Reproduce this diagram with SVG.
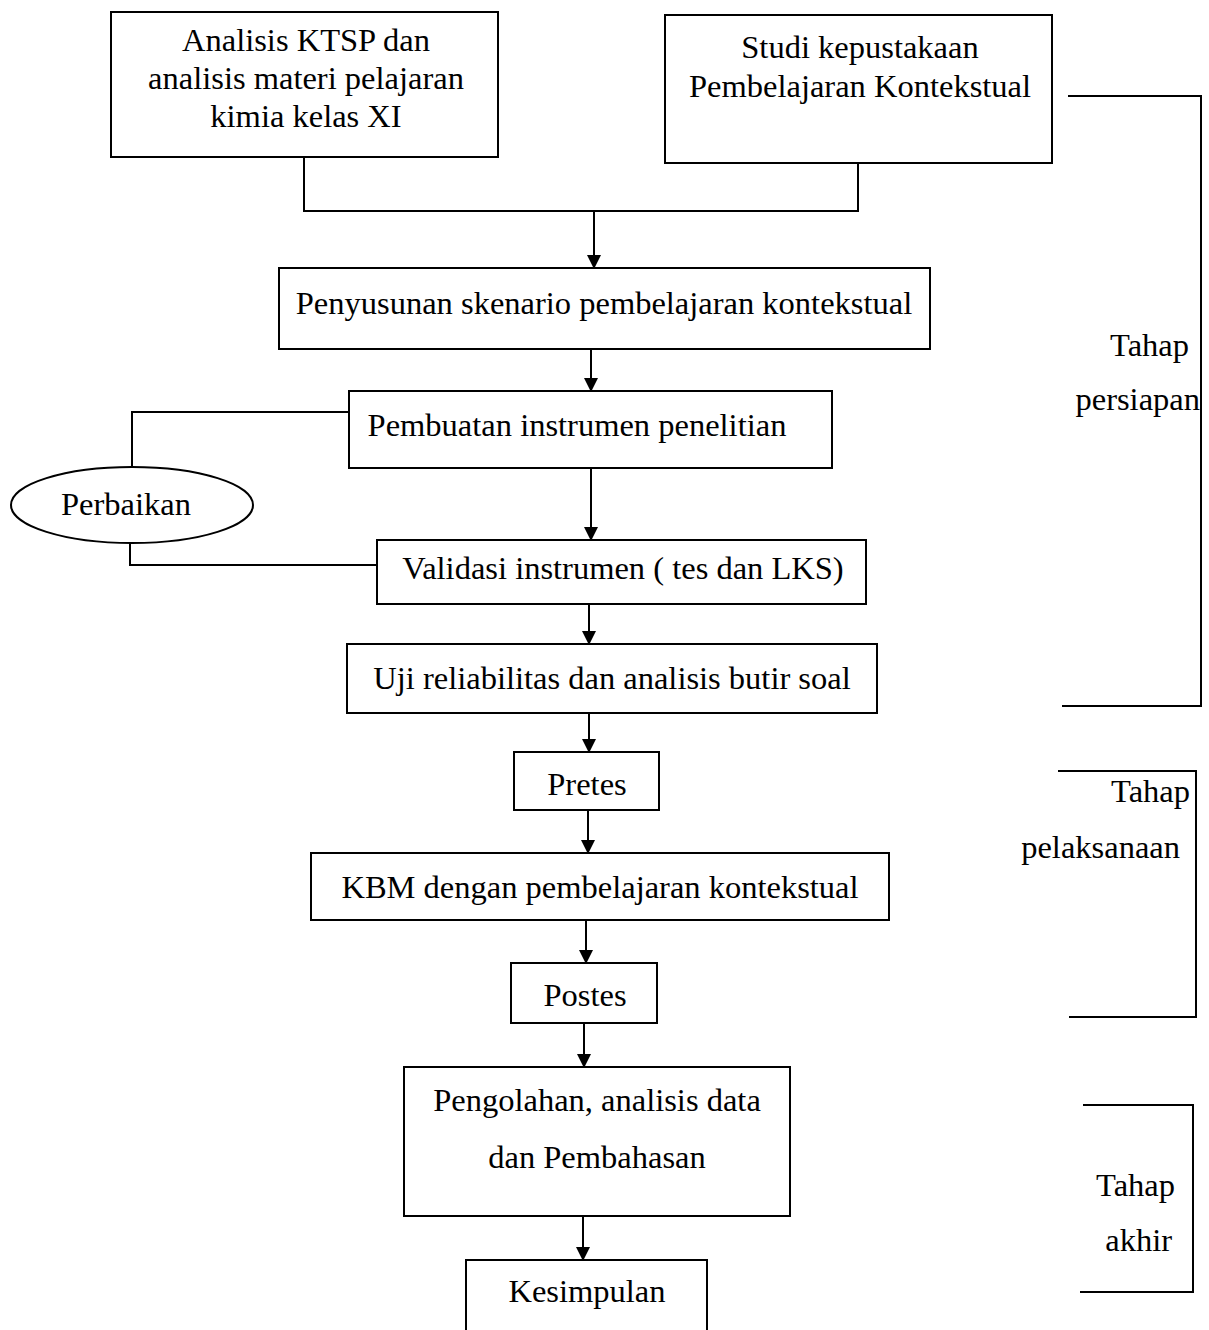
<svg xmlns="http://www.w3.org/2000/svg" width="1209" height="1330" viewBox="0 0 1209 1330">
<defs>
<marker id="ah" markerWidth="14" markerHeight="14" refX="13" refY="7" orient="auto" markerUnits="userSpaceOnUse">
<path d="M0,0 L14,7 L0,14 Z" fill="#000"/>
</marker>
<style>
.box{fill:#fff;stroke:#000;stroke-width:2}
.ln{fill:none;stroke:#000;stroke-width:2}
.t{font-family:"Liberation Serif","Times New Roman",serif;font-size:32.5px;fill:#000;text-anchor:middle}
.r{text-anchor:end}
</style>
</defs>
<rect width="1209" height="1330" fill="#fff"/>
<g id="connectors">
<polyline class="ln" points="304,157 304,211 858,211 858,163"/>
<line class="ln" x1="594" y1="211" x2="594" y2="268" marker-end="url(#ah)"/>
<line class="ln" x1="591" y1="349" x2="591" y2="391" marker-end="url(#ah)"/>
<polyline class="ln" points="349,412 132,412 132,467"/>
<polyline class="ln" points="130,543 130,565 377,565"/>
<line class="ln" x1="591" y1="468" x2="591" y2="540" marker-end="url(#ah)"/>
<line class="ln" x1="589" y1="604" x2="589" y2="644" marker-end="url(#ah)"/>
<line class="ln" x1="589" y1="713" x2="589" y2="752" marker-end="url(#ah)"/>
<line class="ln" x1="588" y1="810" x2="588" y2="853" marker-end="url(#ah)"/>
<line class="ln" x1="586" y1="920" x2="586" y2="963" marker-end="url(#ah)"/>
<line class="ln" x1="584" y1="1023" x2="584" y2="1067" marker-end="url(#ah)"/>
<line class="ln" x1="583" y1="1216" x2="583" y2="1260" marker-end="url(#ah)"/>
<polyline class="ln" points="1068,96 1201,96 1201,706 1062,706"/>
<polyline class="ln" points="1058,771 1196,771 1196,1017 1069,1017"/>
<polyline class="ln" points="1083,1105 1193,1105 1193,1292 1080,1292"/>
</g>
<g id="n1"><rect class="box" x="111" y="12" width="387" height="145"/>
<text class="t" x="306" y="51">Analisis KTSP dan</text>
<text class="t" x="306" y="89">analisis materi pelajaran</text>
<text class="t" x="306" y="127">kimia kelas XI</text></g>
<g id="n2"><rect class="box" x="665" y="15" width="387" height="148"/>
<text class="t" x="860" y="58">Studi kepustakaan</text>
<text class="t" x="860" y="97">Pembelajaran Kontekstual</text></g>
<g id="n3"><rect class="box" x="279" y="268" width="651" height="81"/>
<text class="t" x="604" y="314">Penyusunan skenario pembelajaran kontekstual</text></g>
<g id="n4"><rect class="box" x="349" y="391" width="483" height="77"/>
<text class="t" x="577" y="436">Pembuatan instrumen penelitian</text></g>
<g id="n5"><ellipse class="box" cx="132" cy="505" rx="121" ry="38"/>
<text class="t" x="126" y="515">Perbaikan</text></g>
<g id="n6"><rect class="box" x="377" y="540" width="489" height="64"/>
<text class="t" x="623" y="579">Validasi instrumen ( tes dan LKS)</text></g>
<g id="n7"><rect class="box" x="347" y="644" width="530" height="69"/>
<text class="t" x="612" y="689">Uji reliabilitas dan analisis butir soal</text></g>
<g id="n8"><rect class="box" x="514" y="752" width="145" height="58"/>
<text class="t" x="587" y="795">Pretes</text></g>
<g id="n9"><rect class="box" x="311" y="853" width="578" height="67"/>
<text class="t" x="600" y="898">KBM dengan pembelajaran kontekstual</text></g>
<g id="n10"><rect class="box" x="511" y="963" width="146" height="60"/>
<text class="t" x="585" y="1006">Postes</text></g>
<g id="n11"><rect class="box" x="404" y="1067" width="386" height="149"/>
<text class="t" x="597" y="1111">Pengolahan, analisis data</text>
<text class="t" x="597" y="1168">dan Pembahasan</text></g>
<g id="n12"><rect class="box" x="466" y="1260" width="241" height="90"/>
<text class="t" x="587" y="1302">Kesimpulan</text></g>
<g id="labels">
<text class="t r" x="1189" y="356">Tahap</text>
<text class="t r" x="1200" y="410">persiapan</text>
<text class="t r" x="1190" y="802">Tahap</text>
<text class="t r" x="1180" y="858">pelaksanaan</text>
<text class="t r" x="1175" y="1196">Tahap</text>
<text class="t r" x="1172" y="1251">akhir</text>
</g>
</svg>
